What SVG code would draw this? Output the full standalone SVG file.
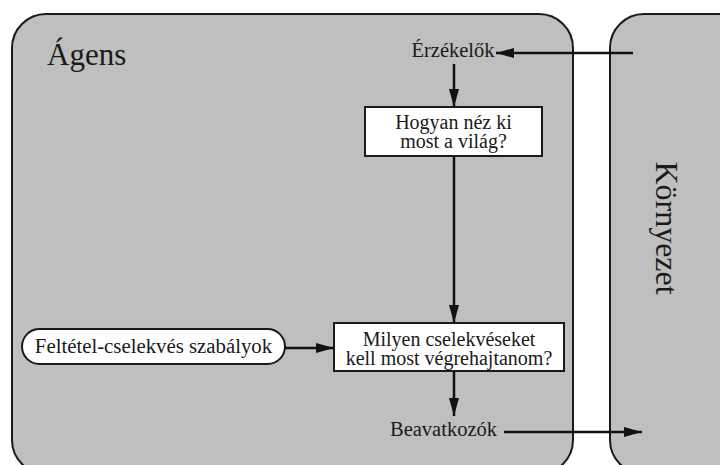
<svg xmlns="http://www.w3.org/2000/svg" width="720" height="465" viewBox="0 0 720 465">
<defs>
<style>
.region{fill:#bfbfbf;stroke:#1a1a1a;stroke-width:2}
.box{fill:#ffffff;stroke:#1a1a1a;stroke-width:2}
.t{font-family:"Liberation Serif","DejaVu Serif",serif;fill:#1a1a1a}
.c{stroke:#111;stroke-width:2.5;fill:none;marker-end:url(#ah)}
</style>
<marker id="ah" markerUnits="userSpaceOnUse" markerWidth="19" markerHeight="11" refX="18" refY="5" orient="auto">
<path d="M0,0 L18,5 L0,10 z" fill="#111"/>
</marker>
</defs>
<rect width="720" height="465" fill="#ffffff"/>
<g id="agens">
<rect class="region" x="12" y="14" width="561" height="460" rx="34" ry="34"/>
<text class="t" x="47" y="65" font-size="31" font-family="Liberation Serif, serif">Ágens</text>
</g>
<g id="kornyezet">
<rect class="region" x="610" y="14" width="170" height="460" rx="34" ry="34"/>
<text class="t" font-size="32" text-anchor="middle" transform="translate(656,228) rotate(90)">Környezet</text>
</g>
<g id="erzekelok">
<text class="t" x="453" y="57" font-size="20.5" text-anchor="middle">Érzékelők</text>
</g>
<g id="hogyan">
<rect class="box" x="365" y="107" width="177" height="49"/>
<text class="t" x="453.5" y="128.5" font-size="20" text-anchor="middle">Hogyan néz ki</text>
<text class="t" x="453.5" y="148" font-size="20" text-anchor="middle">most a világ?</text>
</g>
<g id="milyen">
<rect class="box" x="334" y="323" width="230" height="48"/>
<text class="t" x="449" y="345.5" font-size="20" text-anchor="middle">Milyen cselekvéseket</text>
<text class="t" x="449" y="364.5" font-size="20" text-anchor="middle">kell most végrehajtanom?</text>
</g>
<g id="szabalyok">
<rect class="box" x="22" y="329" width="263" height="35" rx="17.5" ry="17.5"/>
<text class="t" x="153.5" y="353" font-size="20.8" text-anchor="middle">Feltétel-cselekvés szabályok</text>
</g>
<g id="beavatkozok">
<text class="t" x="443.5" y="436" font-size="20.5" text-anchor="middle">Beavatkozók</text>
</g>
<g id="connectors">
<line class="c" x1="633" y1="53" x2="496" y2="53"/>
<line class="c" x1="454" y1="64" x2="454" y2="107"/>
<line class="c" x1="454" y1="156" x2="454" y2="323"/>
<line class="c" x1="285" y1="348" x2="334" y2="348"/>
<line class="c" x1="454" y1="371" x2="454" y2="416"/>
<line class="c" x1="504" y1="432" x2="642" y2="432"/>
</g>
</svg>
